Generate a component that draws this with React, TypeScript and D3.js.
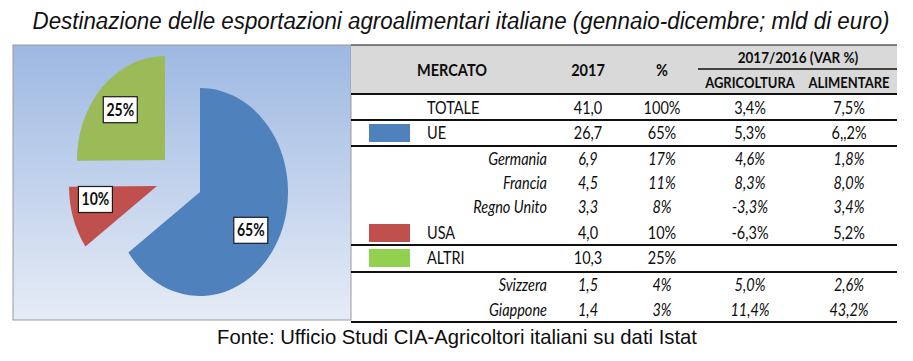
import React from "react";
import * as d3 from "d3";

// ---------- DATA ----------
const TITLE = "Destinazione delle esportazioni agroalimentari italiane (gennaio-dicembre; mld di euro)";
const SOURCE = "Fonte: Ufficio Studi CIA-Agricoltori italiani su dati Istat";

const PIE_CATEGORIES = ["UE", "USA", "ALTRI"];
const PIE_VALUES = [26.7, 4.0, 10.3];
const PIE_LABELS = ["65%", "10%", "25%"];

const HEAD_MERCATO = "MERCATO";
const HEAD_2017 = "2017";
const HEAD_PCT = "%";
const HEAD_VAR = "2017/2016 (VAR %)";
const HEAD_AGRI = "AGRICOLTURA";
const HEAD_ALIM = "ALIMENTARE";

const ROW_NAMES = ["TOTALE", "UE", "Germania", "Francia", "Regno Unito", "USA", "ALTRI", "Svizzera", "Giappone"];
const ROW_KIND = ["total", "market", "country", "country", "country", "market", "market", "country", "country"];
const ROW_SWATCH = [-1, 0, -1, -1, -1, 1, 2, -1, -1];
const VAL_2017 = ["41,0", "26,7", "6,9", "4,5", "3,3", "4,0", "10,3", "1,5", "1,4"];
const VAL_PCT = ["100%", "65%", "17%", "11%", "8%", "10%", "25%", "4%", "3%"];
const VAL_AGRI = ["3,4%", "5,3%", "4,6%", "8,3%", "-3,3%", "-6,3%", "", "5,0%", "11,4%"];
const VAL_ALIM = ["7,5%", "6,,2%", "1,8%", "8,0%", "3,4%", "5,2%", "", "2,6%", "43,2%"];

// ---------- STYLE / LAYOUT ----------
const W = 913;
const H = 361;
const SY = 1.16; // vertical stretch of the source image
const PIE_COLORS = ["#4f81bd", "#c0504d", "#9bbb59"];
const SWATCH_COLORS = ["#4f81bd", "#c0504d", "#92d050"];
const PIE_CENTER = [194, 189];
const PIE_R = 88;
const PIE_SY = 104 / 88;
const EXPLODE = [[6, 3], [-37, -3], [-29, -29]];
const LABEL_F = 0.7;
const LABEL_NUDGE = [[-4, 5], [-3, -9], [-1, 1]];

const PANEL = { x0: 13, y0: 45, x1: 351, y1: 320 };
const TABLE = { x0: 351, x1: 897, top: 45, headBottom: 94, varLineY: 69, varX0: 698 };
const ROW_Y = [108, 133, 159, 183, 207, 233, 258, 285, 310];
const ROW_LINES = [120, 146, 245, 272, 322];
const COL_X = { name: 427, country: 547, v2017: 588, pct: 662, agri: 750, alim: 849, mercato: 452, varC: 798 };

const TABLE_FONT = "Lato, 'Open Sans', sans-serif";
const ARIAL = "'Liberation Sans', Arial, sans-serif";

type TProps = {
  x: number; y: number; size: number; anchor?: string; weight?: string | number;
  italic?: boolean; family?: string; fill?: string; children: React.ReactNode; sy?: number; len?: number;
};

// y = visual center of capital letters
function T({ x, y, size, anchor = "start", weight = "normal", italic = false, family = TABLE_FONT, fill = "#0d0d0d", children, sy = SY, len }: TProps) {
  const base = y + size * 0.36 * sy;
  const extra: any = len ? { textLength: len, lengthAdjust: "spacingAndGlyphs" } : {};
  return (
    <text
      transform={`translate(${x},${base}) scale(1,${sy})`}
      textAnchor={anchor as any}
      fontFamily={family}
      fontSize={size}
      fontWeight={weight as any}
      fontStyle={italic ? "italic" : "normal"}
      fill={fill}
      {...extra}
    >
      {children}
    </text>
  );
}

export default function App() {
  const arcs = d3.pie<number>().sort(null).value((d) => d)(PIE_VALUES);
  const arcGen = d3.arc<d3.PieArcDatum<number>>().innerRadius(0).outerRadius(PIE_R);

  return (
    <svg
      width={W}
      height={H}
      viewBox={`0 0 ${W} ${H}`}
      style={{ position: "absolute", left: 0, top: 0, display: "block", background: "#fff" }}
    >
      <defs>
        <linearGradient id="panelGrad" x1="0" y1="0" x2="0" y2="1">
          <stop offset="0%" stopColor="#9db8e2" />
          <stop offset="100%" stopColor="#e6ecf6" />
        </linearGradient>
      </defs>

      {/* Title */}
      <T x={461} y={21} size={22} anchor="middle" italic family={ARIAL} fill="#111" sy={1.05} len={857}>
        {TITLE}
      </T>

      {/* Pie panel */}
      <rect
        x={PANEL.x0}
        y={PANEL.y0}
        width={PANEL.x1 - PANEL.x0}
        height={PANEL.y1 - PANEL.y0}
        fill="url(#panelGrad)"
        stroke="#9a9a9a"
        strokeWidth={1}
      />

      {arcs.map((a, i) => {
        const ox = PIE_CENTER[0] + EXPLODE[i][0];
        const oy = PIE_CENTER[1] + EXPLODE[i][1];
        return (
          <g key={PIE_CATEGORIES[i]} transform={`translate(${ox},${oy}) scale(1,${PIE_SY})`}>
            <path d={arcGen(a) || ""} fill={PIE_COLORS[i]} />
          </g>
        );
      })}

      {arcs.map((a, i) => {
        const m = (a.startAngle + a.endAngle) / 2;
        const lx = PIE_CENTER[0] + EXPLODE[i][0] + Math.sin(m) * PIE_R * LABEL_F + LABEL_NUDGE[i][0];
        const ly = PIE_CENTER[1] + EXPLODE[i][1] - Math.cos(m) * PIE_R * PIE_SY * LABEL_F + LABEL_NUDGE[i][1];
        const bw = 34;
        const bh = 26;
        return (
          <g key={"lab" + i}>
            <rect x={lx - bw / 2} y={ly - bh / 2} width={bw} height={bh} fill="#fff" stroke="#1a1a1a" strokeWidth={1.2} />
            <T x={lx} y={ly} size={14} anchor="middle" weight={700}>
              {PIE_LABELS[i]}
            </T>
          </g>
        );
      })}

      {/* Table header */}
      <rect x={TABLE.x0} y={TABLE.top} width={TABLE.x1 - TABLE.x0} height={TABLE.headBottom - TABLE.top} fill="#d9d9d9" />
      <line x1={TABLE.x0} x2={TABLE.x1} y1={TABLE.top} y2={TABLE.top} stroke="#111" strokeWidth={1.2} />
      <line x1={TABLE.varX0} x2={TABLE.x1} y1={TABLE.varLineY} y2={TABLE.varLineY} stroke="#111" strokeWidth={1.6} />
      <line x1={TABLE.x0} x2={TABLE.x1} y1={TABLE.headBottom} y2={TABLE.headBottom} stroke="#111" strokeWidth={2} />

      <T x={COL_X.mercato} y={70} size={14.5} anchor="middle" weight={700}>{HEAD_MERCATO}</T>
      <T x={COL_X.v2017} y={70} size={14.5} anchor="middle" weight={700}>{HEAD_2017}</T>
      <T x={COL_X.pct} y={70} size={14.5} anchor="middle" weight={700}>{HEAD_PCT}</T>
      <T x={COL_X.varC} y={57} size={13.5} anchor="middle" weight={700}>{HEAD_VAR}</T>
      <T x={COL_X.agri} y={83} size={13} anchor="middle" weight={700}>{HEAD_AGRI}</T>
      <T x={COL_X.alim} y={83} size={13} anchor="middle" weight={700}>{HEAD_ALIM}</T>

      {ROW_LINES.map((y) => (
        <line key={"rl" + y} x1={TABLE.x0} x2={TABLE.x1} y1={y} y2={y} stroke="#111" strokeWidth={1.8} />
      ))}

      {ROW_NAMES.map((name, i) => {
        const y = ROW_Y[i];
        const italic = ROW_KIND[i] === "country";
        const size = 14.5;
        const sw = ROW_SWATCH[i];
        return (
          <g key={name}>
            {sw >= 0 && (
              <rect x={369} y={y - 9} width={41} height={18} fill={SWATCH_COLORS[sw]} />
            )}
            {italic ? (
              <T x={COL_X.country} y={y} size={size} anchor="end" italic>{name}</T>
            ) : (
              <T x={COL_X.name} y={y} size={size}>{name}</T>
            )}
            <T x={COL_X.v2017} y={y} size={size} anchor="middle" italic={italic}>{VAL_2017[i]}</T>
            <T x={COL_X.pct} y={y} size={size} anchor="middle" italic={italic}>{VAL_PCT[i]}</T>
            {VAL_AGRI[i] && (
              <T x={COL_X.agri} y={y} size={size} anchor="middle" italic={italic}>{VAL_AGRI[i]}</T>
            )}
            {VAL_ALIM[i] && (
              <T x={COL_X.alim} y={y} size={size} anchor="middle" italic={italic}>{VAL_ALIM[i]}</T>
            )}
          </g>
        );
      })}

      {/* Source */}
      <T x={457} y={336} size={20} anchor="middle" family={ARIAL} sy={1.05} len={480}>
        {SOURCE}
      </T>
    </svg>
  );
}
